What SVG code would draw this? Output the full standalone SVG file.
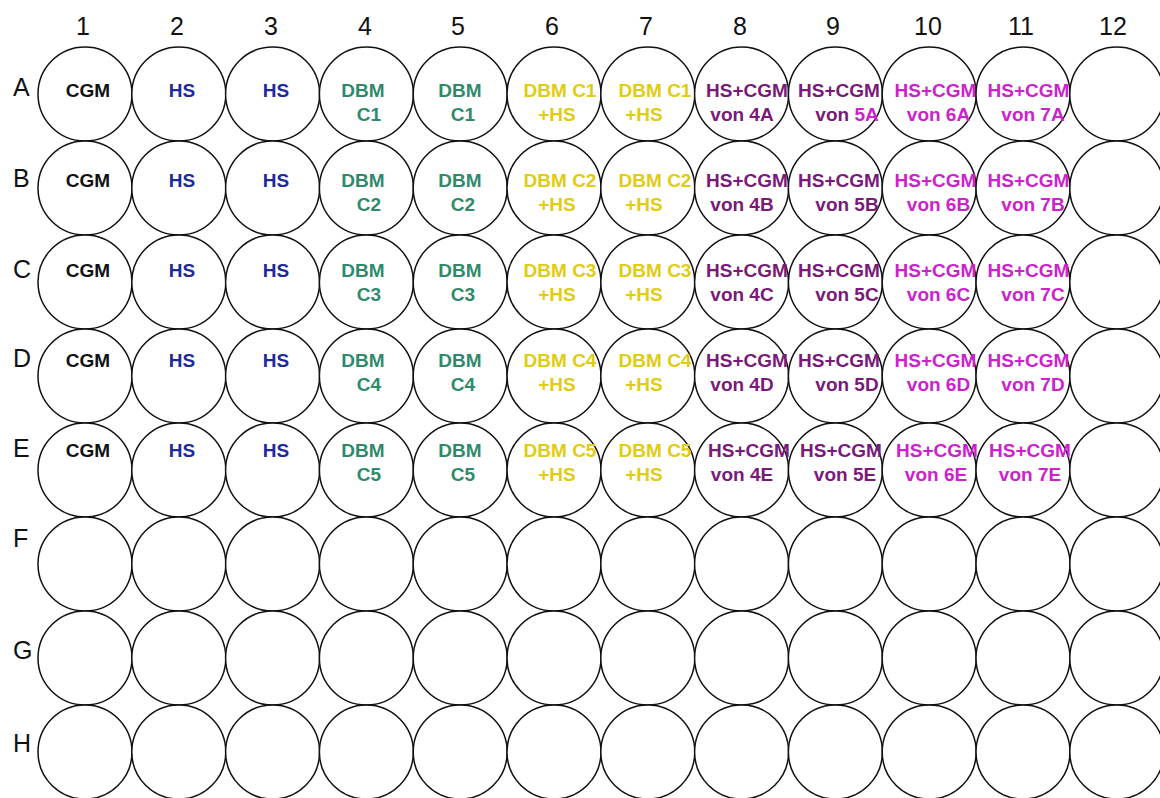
<svg xmlns="http://www.w3.org/2000/svg" width="1160" height="798" viewBox="0 0 1160 798">
<style>
.w{fill:#fff;stroke:#111;stroke-width:1.5}
.t{font-family:"Liberation Sans",Arial,sans-serif;font-weight:bold;font-size:19px;text-anchor:middle}
.h{font-family:"Liberation Sans",Arial,sans-serif;font-size:25px;fill:#111;text-anchor:middle}
.r{font-family:"Liberation Sans",Arial,sans-serif;font-size:25px;fill:#111}
.k{fill:#111}.b{fill:#1f2a9a}.g{fill:#2f8a6c}.y{fill:#e0cc10}.p{fill:#7a1a78}.m{fill:#cc22cc}
</style>
<rect width="1160" height="798" fill="#fff"/>
<g id="col-labels">
<text class="h" x="83" y="35">1</text><text class="h" x="177" y="35">2</text><text class="h" x="271" y="35">3</text><text class="h" x="365" y="35">4</text><text class="h" x="458" y="35">5</text><text class="h" x="552" y="35">6</text><text class="h" x="646" y="35">7</text><text class="h" x="740" y="35">8</text><text class="h" x="833" y="35">9</text><text class="h" x="928" y="35">10</text><text class="h" x="1021" y="35">11</text><text class="h" x="1113" y="35">12</text>
</g>
<g id="row-labels">
<text class="r" x="13" y="96">A</text><text class="r" x="13" y="187">B</text><text class="r" x="13" y="278">C</text><text class="r" x="13" y="367">D</text><text class="r" x="13" y="457">E</text><text class="r" x="13" y="547">F</text><text class="r" x="13" y="659">G</text><text class="r" x="13" y="752">H</text>
</g>
<g id="row-A">
<g id="A1"><circle class="w" cx="85" cy="94" r="47"/><text class="t k" x="88" y="97">CGM</text></g>
<g id="A2"><circle class="w" cx="178.8" cy="94" r="47"/><text class="t b" x="182" y="97">HS</text></g>
<g id="A3"><circle class="w" cx="272.6" cy="94" r="47"/><text class="t b" x="276" y="97">HS</text></g>
<g id="A4"><circle class="w" cx="366.4" cy="94" r="47"/><text class="t g" x="363" y="97">DBM</text><text class="t g" x="369" y="121">C1</text></g>
<g id="A5"><circle class="w" cx="460.2" cy="94" r="47"/><text class="t g" x="460" y="97">DBM</text><text class="t g" x="463" y="121">C1</text></g>
<g id="A6"><circle class="w" cx="554" cy="94" r="47"/><text class="t y" x="560" y="97">DBM C1</text><text class="t y" x="557" y="121">+HS</text></g>
<g id="A7"><circle class="w" cx="647.8" cy="94" r="47"/><text class="t y" x="655" y="97">DBM C1</text><text class="t y" x="644" y="121">+HS</text></g>
<g id="A8"><circle class="w" cx="741.6" cy="94" r="47"/><text class="t p" x="747" y="97">HS+CGM</text><text class="t p" x="742" y="121">von 4A</text></g>
<g id="A9"><circle class="w" cx="835.4" cy="94" r="47"/><text class="t p" x="839" y="97">HS+CGM</text><text class="t p" x="847" y="121">von <tspan class="m">5A</tspan></text></g>
<g id="A10"><circle class="w" cx="929.2" cy="94" r="47"/><text class="t m" x="935.5" y="97">HS+CGM</text><text class="t m" x="938.5" y="121">von 6A</text></g>
<g id="A11"><circle class="w" cx="1023" cy="94" r="47"/><text class="t m" x="1028.5" y="97">HS+CGM</text><text class="t m" x="1033" y="121">von 7A</text></g>
<g id="A12"><circle class="w" cx="1116.8" cy="94" r="47"/></g>
</g>
<g id="row-B">
<g id="B1"><circle class="w" cx="85" cy="188" r="47"/><text class="t k" x="88" y="187">CGM</text></g>
<g id="B2"><circle class="w" cx="178.8" cy="188" r="47"/><text class="t b" x="182" y="187">HS</text></g>
<g id="B3"><circle class="w" cx="272.6" cy="188" r="47"/><text class="t b" x="276" y="187">HS</text></g>
<g id="B4"><circle class="w" cx="366.4" cy="188" r="47"/><text class="t g" x="363" y="187">DBM</text><text class="t g" x="369" y="211">C2</text></g>
<g id="B5"><circle class="w" cx="460.2" cy="188" r="47"/><text class="t g" x="460" y="187">DBM</text><text class="t g" x="463" y="211">C2</text></g>
<g id="B6"><circle class="w" cx="554" cy="188" r="47"/><text class="t y" x="560" y="187">DBM C2</text><text class="t y" x="557" y="211">+HS</text></g>
<g id="B7"><circle class="w" cx="647.8" cy="188" r="47"/><text class="t y" x="655" y="187">DBM C2</text><text class="t y" x="644" y="211">+HS</text></g>
<g id="B8"><circle class="w" cx="741.6" cy="188" r="47"/><text class="t p" x="747" y="187">HS+CGM</text><text class="t p" x="742" y="211">von 4B</text></g>
<g id="B9"><circle class="w" cx="835.4" cy="188" r="47"/><text class="t p" x="839" y="187">HS+CGM</text><text class="t p" x="847" y="211">von 5B</text></g>
<g id="B10"><circle class="w" cx="929.2" cy="188" r="47"/><text class="t m" x="935.5" y="187">HS+CGM</text><text class="t m" x="938.5" y="211">von 6B</text></g>
<g id="B11"><circle class="w" cx="1023" cy="188" r="47"/><text class="t m" x="1028.5" y="187">HS+CGM</text><text class="t m" x="1033" y="211">von 7B</text></g>
<g id="B12"><circle class="w" cx="1116.8" cy="188" r="47"/></g>
</g>
<g id="row-C">
<g id="C1"><circle class="w" cx="85" cy="282" r="47"/><text class="t k" x="88" y="277">CGM</text></g>
<g id="C2"><circle class="w" cx="178.8" cy="282" r="47"/><text class="t b" x="182" y="277">HS</text></g>
<g id="C3"><circle class="w" cx="272.6" cy="282" r="47"/><text class="t b" x="276" y="277">HS</text></g>
<g id="C4"><circle class="w" cx="366.4" cy="282" r="47"/><text class="t g" x="363" y="277">DBM</text><text class="t g" x="369" y="301">C3</text></g>
<g id="C5"><circle class="w" cx="460.2" cy="282" r="47"/><text class="t g" x="460" y="277">DBM</text><text class="t g" x="463" y="301">C3</text></g>
<g id="C6"><circle class="w" cx="554" cy="282" r="47"/><text class="t y" x="560" y="277">DBM C3</text><text class="t y" x="557" y="301">+HS</text></g>
<g id="C7"><circle class="w" cx="647.8" cy="282" r="47"/><text class="t y" x="655" y="277">DBM C3</text><text class="t y" x="644" y="301">+HS</text></g>
<g id="C8"><circle class="w" cx="741.6" cy="282" r="47"/><text class="t p" x="747" y="277">HS+CGM</text><text class="t p" x="742" y="301">von 4C</text></g>
<g id="C9"><circle class="w" cx="835.4" cy="282" r="47"/><text class="t p" x="839" y="277">HS+CGM</text><text class="t p" x="847" y="301">von 5C</text></g>
<g id="C10"><circle class="w" cx="929.2" cy="282" r="47"/><text class="t m" x="935.5" y="277">HS+CGM</text><text class="t m" x="938.5" y="301">von 6C</text></g>
<g id="C11"><circle class="w" cx="1023" cy="282" r="47"/><text class="t m" x="1028.5" y="277">HS+CGM</text><text class="t m" x="1033" y="301">von 7C</text></g>
<g id="C12"><circle class="w" cx="1116.8" cy="282" r="47"/></g>
</g>
<g id="row-D">
<g id="D1"><circle class="w" cx="85" cy="376" r="47"/><text class="t k" x="88" y="367">CGM</text></g>
<g id="D2"><circle class="w" cx="178.8" cy="376" r="47"/><text class="t b" x="182" y="367">HS</text></g>
<g id="D3"><circle class="w" cx="272.6" cy="376" r="47"/><text class="t b" x="276" y="367">HS</text></g>
<g id="D4"><circle class="w" cx="366.4" cy="376" r="47"/><text class="t g" x="363" y="367">DBM</text><text class="t g" x="369" y="391">C4</text></g>
<g id="D5"><circle class="w" cx="460.2" cy="376" r="47"/><text class="t g" x="460" y="367">DBM</text><text class="t g" x="463" y="391">C4</text></g>
<g id="D6"><circle class="w" cx="554" cy="376" r="47"/><text class="t y" x="560" y="367">DBM C4</text><text class="t y" x="557" y="391">+HS</text></g>
<g id="D7"><circle class="w" cx="647.8" cy="376" r="47"/><text class="t y" x="655" y="367">DBM C4</text><text class="t y" x="644" y="391">+HS</text></g>
<g id="D8"><circle class="w" cx="741.6" cy="376" r="47"/><text class="t p" x="747" y="367">HS+CGM</text><text class="t p" x="742" y="391">von 4D</text></g>
<g id="D9"><circle class="w" cx="835.4" cy="376" r="47"/><text class="t p" x="839" y="367">HS+CGM</text><text class="t p" x="847" y="391">von 5D</text></g>
<g id="D10"><circle class="w" cx="929.2" cy="376" r="47"/><text class="t m" x="935.5" y="367">HS+CGM</text><text class="t m" x="938.5" y="391">von 6D</text></g>
<g id="D11"><circle class="w" cx="1023" cy="376" r="47"/><text class="t m" x="1028.5" y="367">HS+CGM</text><text class="t m" x="1033" y="391">von 7D</text></g>
<g id="D12"><circle class="w" cx="1116.8" cy="376" r="47"/></g>
</g>
<g id="row-E">
<g id="E1"><circle class="w" cx="85" cy="470" r="47"/><text class="t k" x="88" y="457">CGM</text></g>
<g id="E2"><circle class="w" cx="178.8" cy="470" r="47"/><text class="t b" x="182" y="457">HS</text></g>
<g id="E3"><circle class="w" cx="272.6" cy="470" r="47"/><text class="t b" x="276" y="457">HS</text></g>
<g id="E4"><circle class="w" cx="366.4" cy="470" r="47"/><text class="t g" x="363" y="457">DBM</text><text class="t g" x="369" y="481">C5</text></g>
<g id="E5"><circle class="w" cx="460.2" cy="470" r="47"/><text class="t g" x="460" y="457">DBM</text><text class="t g" x="463" y="481">C5</text></g>
<g id="E6"><circle class="w" cx="554" cy="470" r="47"/><text class="t y" x="560" y="457">DBM C5</text><text class="t y" x="557" y="481">+HS</text></g>
<g id="E7"><circle class="w" cx="647.8" cy="470" r="47"/><text class="t y" x="655" y="457">DBM C5</text><text class="t y" x="644" y="481">+HS</text></g>
<g id="E8"><circle class="w" cx="741.6" cy="470" r="47"/><text class="t p" x="749" y="457">HS+CGM</text><text class="t p" x="742" y="481">von 4E</text></g>
<g id="E9"><circle class="w" cx="835.4" cy="470" r="47"/><text class="t p" x="841" y="457">HS+CGM</text><text class="t p" x="845" y="481">von 5E</text></g>
<g id="E10"><circle class="w" cx="929.2" cy="470" r="47"/><text class="t m" x="937" y="457">HS+CGM</text><text class="t m" x="936" y="481">von 6E</text></g>
<g id="E11"><circle class="w" cx="1023" cy="470" r="47"/><text class="t m" x="1030" y="457">HS+CGM</text><text class="t m" x="1030" y="481">von 7E</text></g>
<g id="E12"><circle class="w" cx="1116.8" cy="470" r="47"/></g>
</g>
<g id="row-F">
<g id="F1"><circle class="w" cx="85" cy="564" r="47"/></g><g id="F2"><circle class="w" cx="178.8" cy="564" r="47"/></g><g id="F3"><circle class="w" cx="272.6" cy="564" r="47"/></g><g id="F4"><circle class="w" cx="366.4" cy="564" r="47"/></g><g id="F5"><circle class="w" cx="460.2" cy="564" r="47"/></g><g id="F6"><circle class="w" cx="554" cy="564" r="47"/></g><g id="F7"><circle class="w" cx="647.8" cy="564" r="47"/></g><g id="F8"><circle class="w" cx="741.6" cy="564" r="47"/></g><g id="F9"><circle class="w" cx="835.4" cy="564" r="47"/></g><g id="F10"><circle class="w" cx="929.2" cy="564" r="47"/></g><g id="F11"><circle class="w" cx="1023" cy="564" r="47"/></g><g id="F12"><circle class="w" cx="1116.8" cy="564" r="47"/></g>
</g>
<g id="row-G">
<g id="G1"><circle class="w" cx="85" cy="658" r="47"/></g><g id="G2"><circle class="w" cx="178.8" cy="658" r="47"/></g><g id="G3"><circle class="w" cx="272.6" cy="658" r="47"/></g><g id="G4"><circle class="w" cx="366.4" cy="658" r="47"/></g><g id="G5"><circle class="w" cx="460.2" cy="658" r="47"/></g><g id="G6"><circle class="w" cx="554" cy="658" r="47"/></g><g id="G7"><circle class="w" cx="647.8" cy="658" r="47"/></g><g id="G8"><circle class="w" cx="741.6" cy="658" r="47"/></g><g id="G9"><circle class="w" cx="835.4" cy="658" r="47"/></g><g id="G10"><circle class="w" cx="929.2" cy="658" r="47"/></g><g id="G11"><circle class="w" cx="1023" cy="658" r="47"/></g><g id="G12"><circle class="w" cx="1116.8" cy="658" r="47"/></g>
</g>
<g id="row-H">
<g id="H1"><circle class="w" cx="85" cy="752" r="47"/></g><g id="H2"><circle class="w" cx="178.8" cy="752" r="47"/></g><g id="H3"><circle class="w" cx="272.6" cy="752" r="47"/></g><g id="H4"><circle class="w" cx="366.4" cy="752" r="47"/></g><g id="H5"><circle class="w" cx="460.2" cy="752" r="47"/></g><g id="H6"><circle class="w" cx="554" cy="752" r="47"/></g><g id="H7"><circle class="w" cx="647.8" cy="752" r="47"/></g><g id="H8"><circle class="w" cx="741.6" cy="752" r="47"/></g><g id="H9"><circle class="w" cx="835.4" cy="752" r="47"/></g><g id="H10"><circle class="w" cx="929.2" cy="752" r="47"/></g><g id="H11"><circle class="w" cx="1023" cy="752" r="47"/></g><g id="H12"><circle class="w" cx="1116.8" cy="752" r="47"/></g>
</g>
<g id="connectors"/>
</svg>
